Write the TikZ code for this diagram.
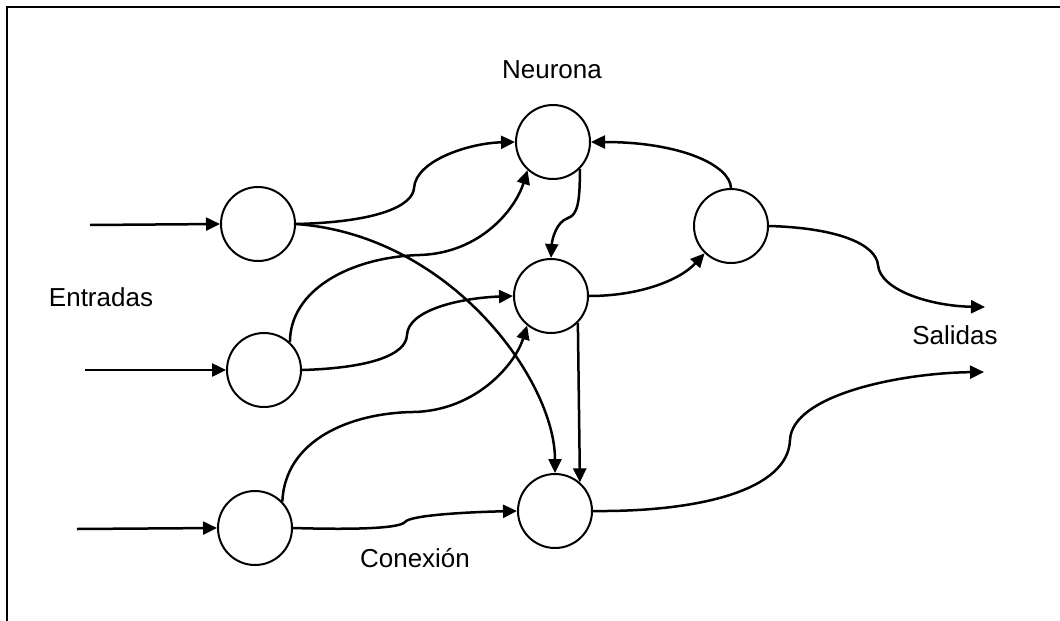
\documentclass[tikz,border=0pt]{standalone}
\usepackage{fontspec}
\setmainfont{Liberation Sans}
\usetikzlibrary{arrows.meta}
\begin{document}
\begin{tikzpicture}[x=1pt,y=-1pt,
  neuron/.style={circle,draw,line width=2pt,minimum size=74pt,inner sep=0pt},
  link/.style={line width=2.5pt,-{Triangle[length=14pt,width=13pt]}},
  lbl/.style={font=\fontsize{26}{30}\selectfont,inner sep=0pt,anchor=base}]
\useasboundingbox (0,0) rectangle (1060,621);
% frame
\draw[line width=2.5pt] (7,621) -- (7,7) -- (1060,7);

% input layer
\node[neuron] (i1) at (258,224) {};
\node[neuron] (i2) at (264,370) {};
\node[neuron] (i3) at (255,528) {};
% hidden layer
\node[neuron] (h1) at (553,142) {};
\node[neuron] (h2) at (551,296) {};
\node[neuron] (h3) at (555,511) {};
% output neuron
\node[neuron] (h4) at (731,226) {};

% free ends
\coordinate (in1) at (90,225);
\coordinate (in2) at (85,370);
\coordinate (in3) at (77,529);
\coordinate (out1) at (985,307);
\coordinate (out2) at (984,372);

% labels
\node[lbl] (tneu) at (552,78) {Neurona};
\node[lbl] (tent) at (101,306) {Entradas};
\node[lbl] (tsal) at (955,344) {Salidas};
\node[lbl] (tcon) at (415,567) {Conexión};

% inputs
\draw[link] (in1) -- (i1.west);
\draw[link] (in2) -- (i2.west);
\draw[link] (in3) -- (i3.west);

% input -> hidden
\draw[link] (i1.east) .. controls (380,222) and (413,205) .. (414,188)
  .. controls (416,160) and (470,143) .. (h1.west);
\draw[link] (i1.east) .. controls (450,235) and (555,380) .. (h3.north);
\draw[link] (i2.47) .. controls (290,290) and (350,257) .. (420,255)
  .. controls (480,253) and (515,210) .. (h1.-132);
\draw[link] (i2.east) .. controls (370,368) and (406,355) .. (407,335)
  .. controls (408,310) and (460,298) .. (h2.west);
\draw[link] (i3.44) .. controls (285,440) and (350,413) .. (413,412)
  .. controls (475,411) and (515,365) .. (h2.-129);
\draw[link] (i3.east) .. controls (360,530) and (400,528) .. (405,522)
  .. controls (410,515) and (470,512) .. (h3.west);

% hidden -> hidden
\draw[link] (h1.-45) .. controls (580,200) and (578,215) .. (568,218)
  .. controls (556,222) and (552,240) .. (h2.north);
\draw[link] (h2.-45) -- (h3.49);
\draw[link] (h2.east) .. controls (640,296) and (680,280) .. (h4.-134);
\draw[link] (h4.north) .. controls (730,165) and (680,142) .. (h1.east);

% outputs
\draw[link] (h4.east) .. controls (840,228) and (876,245) .. (878,265)
  .. controls (880,290) and (930,306) .. (out1);
\draw[link] (h3.east) .. controls (700,512) and (788,490) .. (790,440)
  .. controls (792,395) and (900,373) .. (out2);
\end{tikzpicture}
\end{document}
